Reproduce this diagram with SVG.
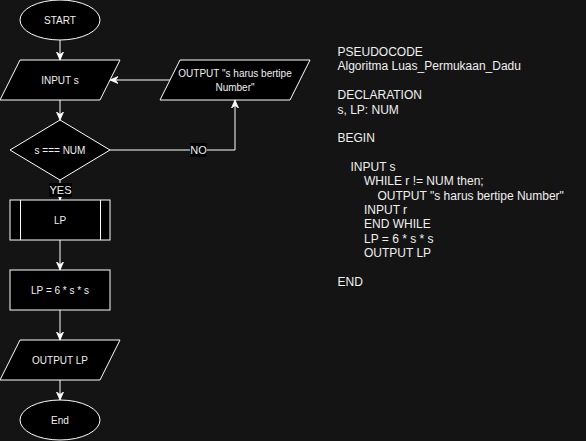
<svg xmlns="http://www.w3.org/2000/svg" width="586" height="441" viewBox="0 0 586 441">
<defs>
<marker id="arr" markerUnits="userSpaceOnUse" viewBox="0 0 8 8" refX="8" refY="4" markerWidth="8" markerHeight="8" orient="auto">
<path d="M0,0.5 L8,4 L0,7.5 L2.5,4 Z" fill="#ffffff" stroke="#ffffff" stroke-width="0.8"/>
</marker>
<style>
.shape{fill:#000000;stroke:#ffffff;stroke-width:1}
.t{font-family:"Liberation Sans",Arial,sans-serif;font-size:10px;fill:#f0f0f0;text-anchor:middle}
.lbl{font-family:"Liberation Sans",Arial,sans-serif;font-size:11px;fill:#f0f0f0;text-anchor:middle}
.edge{fill:none;stroke:#ffffff;stroke-width:1;marker-end:url(#arr)}
.code{font-family:"Liberation Sans",Arial,sans-serif;font-size:12px;fill:#f0f0f0}
</style>
</defs>
<rect x="0" y="0" width="586" height="441" fill="#141414"/>

<g id="connectors">
<path class="edge" d="M60,40 L60,60"/>
<path class="edge" d="M60,100 L60,120"/>
<path class="edge" d="M170,80 L110,80"/>
<path class="edge" d="M110,150 L235,150 L235,100"/>
<path class="edge" d="M60,180 L60,200"/>
<path class="edge" d="M60,240 L60,270"/>
<path class="edge" d="M60,310 L60,340"/>
<path class="edge" d="M60,380 L60,400"/>
<rect x="190" y="143" width="17" height="14" fill="#000000"/>
<text class="lbl" x="198.5" y="154">NO</text>
<rect x="49" y="183" width="23" height="14" fill="#000000"/>
<text class="lbl" x="60.5" y="194">YES</text>
</g>

<g id="start">
<ellipse class="shape" cx="60" cy="20" rx="40" ry="20"/>
<text class="t" x="60" y="23.6">START</text>
</g>

<g id="input-s">
<polygon class="shape" points="20,60 120,60 100,100 0,100"/>
<text class="t" x="60" y="83.6">INPUT s</text>
</g>

<g id="output-error">
<polygon class="shape" points="180,60 310,60 290,100 160,100"/>
<text class="t" x="235" y="77">OUTPUT "s harus bertipe</text>
<text class="t" x="235" y="90.5">Number"</text>
</g>

<g id="decision">
<polygon class="shape" points="60,120 110,150 60,180 10,150"/>
<text class="t" x="60" y="153.6">s === NUM</text>
</g>

<g id="lp">
<rect class="shape" x="10" y="200" width="100" height="40"/>
<line x1="20.5" y1="200" x2="20.5" y2="240" stroke="#ffffff" stroke-width="1"/>
<line x1="100.5" y1="200" x2="100.5" y2="240" stroke="#ffffff" stroke-width="1"/>
<text class="t" x="60" y="223.6">LP</text>
</g>

<g id="calc">
<rect class="shape" x="10" y="270" width="100" height="40"/>
<text class="t" x="60" y="293.6">LP = 6 * s * s</text>
</g>

<g id="output-lp">
<polygon class="shape" points="20,340 120,340 100,380 0,380"/>
<text class="t" x="60" y="363.6">OUTPUT LP</text>
</g>

<g id="end">
<ellipse class="shape" cx="60" cy="420" rx="40" ry="20"/>
<text class="t" x="60" y="423.6">End</text>
</g>

<g id="pseudocode">
<text class="code" x="337.5" y="56">PSEUDOCODE</text>
<text class="code" x="337.5" y="70.4">Algoritma Luas_Permukaan_Dadu</text>
<text class="code" x="337.5" y="99.1">DECLARATION</text>
<text class="code" x="337.5" y="113.5">s, LP: NUM</text>
<text class="code" x="337.5" y="142.2">BEGIN</text>
<text class="code" x="350.5" y="170.9">INPUT s</text>
<text class="code" x="364" y="185.3">WHILE r != NUM then;</text>
<text class="code" x="377.5" y="199.6">OUTPUT "s harus bertipe Number"</text>
<text class="code" x="364" y="214">INPUT r</text>
<text class="code" x="364" y="228.3">END WHILE</text>
<text class="code" x="364" y="242.7">LP = 6 * s * s</text>
<text class="code" x="364" y="257">OUTPUT LP</text>
<text class="code" x="337.5" y="285.7">END</text>
</g>
</svg>
